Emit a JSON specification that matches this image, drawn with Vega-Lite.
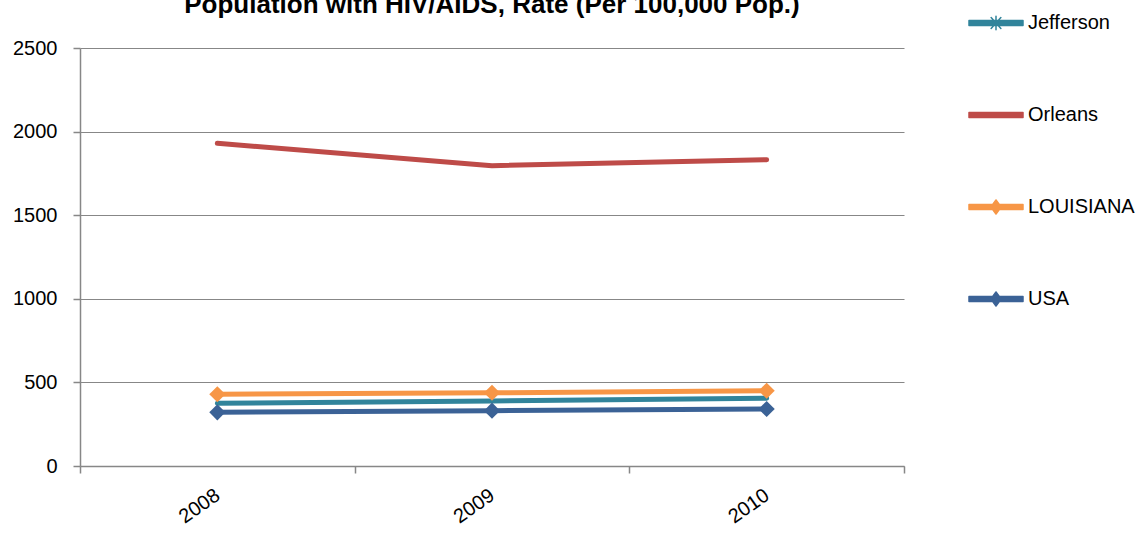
{
  "$schema": "https://vega.github.io/schema/vega-lite/v6.json",
  "width": 824,
  "height": 418,
  "autosize": "none",
  "padding": {"left": 80, "top": 48, "right": 232, "bottom": 67},
  "background": "white",
  "title": {
    "text": "Population with HIV/AIDS, Rate (Per 100,000 Pop.)",
    "font": "Liberation Sans",
    "fontSize": 26,
    "fontWeight": "bold",
    "color": "#000000",
    "anchor": "middle",
    "frame": "group",
    "baseline": "alphabetic",
    "offset": 0,
    "dy": 44
  },
  "config": {
    "view": {"stroke": null},
    "font": "Liberation Sans",
    "axis": {"labelFont": "Liberation Sans", "labelFontSize": 20, "labelColor": "#000000"}
  },
  "data": {
    "values": [
      {"year": "2008", "area": "Jefferson", "rate": 375},
      {"year": "2009", "area": "Jefferson", "rate": 389},
      {"year": "2010", "area": "Jefferson", "rate": 405},
      {"year": "2008", "area": "Orleans", "rate": 1930},
      {"year": "2009", "area": "Orleans", "rate": 1796},
      {"year": "2010", "area": "Orleans", "rate": 1832},
      {"year": "2008", "area": "LOUISIANA", "rate": 429},
      {"year": "2009", "area": "LOUISIANA", "rate": 438},
      {"year": "2010", "area": "LOUISIANA", "rate": 450},
      {"year": "2008", "area": "USA", "rate": 321},
      {"year": "2009", "area": "USA", "rate": 331},
      {"year": "2010", "area": "USA", "rate": 341}
    ]
  },
  "encoding": {
    "x": {
      "field": "year",
      "type": "ordinal",
      "bandPosition": 0.5,
      "scale": {"type": "band", "paddingInner": 0, "paddingOuter": 0},
      "axis": {
        "title": null,
        "tickBand": "extent",
        "grid": false,
        "domainColor": "#878787",
        "domainWidth": 1.5,
        "tickColor": "#878787",
        "tickWidth": 1.5,
        "tickSize": 7,
        "labelAngle": -35,
        "labelAlign": "right",
        "labelBaseline": "middle",
        "labelPadding": 20
      }
    },
    "y": {
      "field": "rate",
      "type": "quantitative",
      "scale": {"domain": [0, 2500], "nice": false, "zero": true},
      "axis": {
        "title": null,
        "format": "d",
        "values": [0, 500, 1000, 1500, 2000, 2500],
        "grid": true,
        "gridColor": "#878787",
        "gridWidth": 1.2,
        "domainColor": "#878787",
        "domainWidth": 1.5,
        "tickColor": "#878787",
        "tickWidth": 1.5,
        "tickSize": 7,
        "labelPadding": 16
      }
    },
    "color": {
      "field": "area",
      "type": "nominal",
      "scale": {
        "domain": ["Jefferson", "Orleans", "LOUISIANA", "USA"],
        "range": ["#31849B", "#BE4B48", "#F79646", "#3B6296"]
      },
      "legend": {
        "title": null,
        "orient": "none",
        "legendX": 888,
        "legendY": -53,
        "symbolSize": 2916,
        "symbolStrokeWidth": 1.5,
        "rowPadding": 54,
        "labelOffset": 4,
        "labelFont": "Liberation Sans",
        "labelFontSize": 20,
        "labelColor": "#000000",
        "labelBaseline": "middle",
        "encode": {
          "symbols": {
            "update": {
              "shape": {"signal": "datum.value === 'Orleans' ? 'M-1,-0.09L1,-0.09L1,0.09L-1,0.09Z' : datum.value === 'Jefferson' ? 'M-1,-0.09L1,-0.09L1,0.09L-1,0.09ZM0,-0.25L0,0.25M-0.18,-0.2L0.18,0.2M-0.18,0.2L0.18,-0.2' : 'M-1,-0.09L1,-0.09L1,0.09L-1,0.09ZM0,-0.26L0.19,0L0,0.26L-0.19,0Z'"},
              "fill": {"signal": "scale('color', datum.value)"},
              "stroke": {"signal": "scale('color', datum.value)"},
              "fillOpacity": {"value": 1},
              "opacity": {"value": 1},
              "strokeJoin": {"value": "round"},
              "strokeCap": {"value": "round"}
            }
          }
        }
      }
    }
  },
  "layer": [
    {
      "mark": {"type": "line", "strokeWidth": 5, "strokeCap": "round", "strokeJoin": "round"}
    },
    {
      "transform": [{"filter": "datum.area === 'LOUISIANA' || datum.area === 'USA'"}],
      "mark": {"type": "point", "shape": "diamond", "filled": true, "size": 260, "opacity": 1},
      "encoding": {
        "color": {"field": "area", "type": "nominal", "legend": null}
      }
    }
  ]
}
